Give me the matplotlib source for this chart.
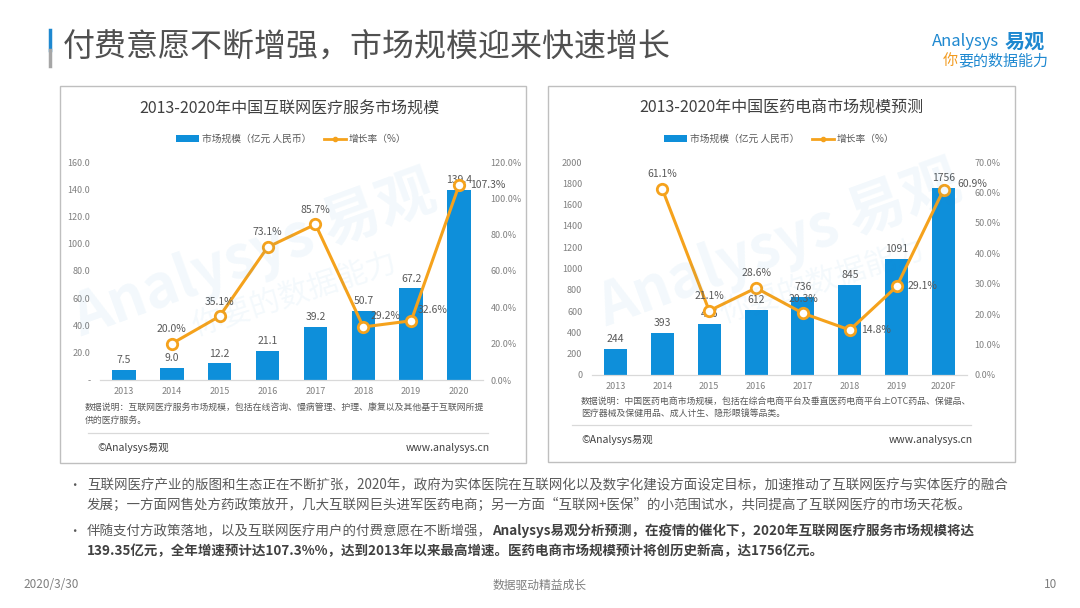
import numpy as np
import matplotlib
matplotlib.use("Agg")
import matplotlib.pyplot as plt
from matplotlib.patches import Rectangle, Patch
from matplotlib.lines import Line2D

plt.rcParams['font.family'] = ['Noto Sans CJK SC', 'DejaVu Sans']

# ---------------- data ----------------
years_left = ["2013", "2014", "2015", "2016", "2017", "2018", "2019", "2020"]
size_left = [7.5, 9.0, 12.2, 21.1, 39.2, 50.7, 67.2, 139.4]
rate_left = [np.nan, 20.0, 35.1, 73.1, 85.7, 29.2, 32.6, 107.3]

years_right = ["2013", "2014", "2015", "2016", "2017", "2018", "2019", "2020F"]
size_right = [244, 393, 476, 612, 736, 845, 1091, 1756]
rate_right = [np.nan, 61.1, 21.1, 28.6, 20.3, 14.8, 29.1, 60.9]

title_left = "2013-2020年中国互联网医疗服务市场规模"
title_right = "2013-2020年中国医药电商市场规模预测"
legend_bar = "市场规模（亿元 人民币）"
legend_line = "增长率（%）"
note_left = ["数据说明：互联网医疗服务市场规模，包括在线咨询、慢病管理、护理、康复以及其他基于互联网所提",
             "供的医疗服务。"]
note_right = ["数据说明：中国医药电商市场规模，包括在综合电商平台及垂直医药电商平台上OTC药品、保健品、",
              "医疗器械及保健用品、成人计生、隐形眼镜等品类。"]

heading = "付费意愿不断增强，市场规模迎来快速增长"
bullet1 = ["互联网医疗产业的版图和生态正在不断扩张，2020年，政府为实体医院在互联网化以及数字化建设方面设定目标，加速推动了互联网医疗与实体医疗的融合",
           "发展；一方面网售处方药政策放开，几大互联网巨头进军医药电商；另一方面“互联网+医保”的小范围试水，共同提高了互联网医疗的市场天花板。"]
bullet2_a = "伴随支付方政策落地，以及互联网医疗用户的付费意愿在不断增强，"
bullet2_b = "Analysys易观分析预测，在疫情的催化下，2020年互联网医疗服务市场规模将达"
bullet2_c = "139.35亿元，全年增速预计达107.3%%，达到2013年以来最高增速。医药电商市场规模预计将创历史新高，达1756亿元。"

# ---------------- style ----------------
W, H = 1080, 608
BLUE = '#0E8FDA'
ORANGE = '#F5A21C'
GRAY_TXT = '#595959'
TICK_GRAY = '#808080'
LABEL_OFFSETS = {'above': (0, 7, 'center', 'bottom'),
                 'upright': (5, 8, 'left', 'center'),
                 'right': (8, 0, 'left', 'center'),
                 'farright': (10, 4, 'left', 'center')}

fig = plt.figure(figsize=(W / 100, H / 100), dpi=100)
fig.patch.set_facecolor('white')


def fx(x):
    return x / W


def fy(y):
    return 1 - y / H


# heading
fig.add_artist(Line2D([fx(50), fx(50)], [fy(30), fy(50)], color='#1E88D0', lw=2.5))
fig.add_artist(Line2D([fx(50), fx(50)], [fy(50), fy(66)], color='#A6A6A6', lw=2.5))
fig.text(fx(63), fy(47), heading, fontsize=23, color='#505050', va='center', ha='left')

# logo
fig.text(fx(999), fy(42), "Analysys", fontsize=12, color='#1E88D0', va='center', ha='right',
         style='italic')
fig.text(fx(1005), fy(41), "易观", fontsize=14.5, color='#1E88D0', va='center', ha='left',
         weight='bold')
fig.text(fx(943), fy(61), "你", fontsize=10.8, color='#F29A1E', va='center', ha='left', style='italic')
fig.text(fx(958), fy(61), "要的数据能力", fontsize=10.8, color='#1E88D0', va='center', ha='left',
         style='italic')


def draw_panel(px0, py0, px1, py1):
    fig.add_artist(Rectangle((fx(px0), fy(py1)), fx(px1) - fx(px0), fy(py0) - fy(py1),
                             transform=fig.transFigure, fill=False, edgecolor='#BFBFBF', lw=1))


def draw_chart(ax_px, years, sizes, rates, ymax, ystep, rmax, rstep, size_fmt, tick_fmt,
               zero_label, placements, title, title_xy, notes, note_xy, sep, foot_y, wm):
    x0, y0, x1, y1 = ax_px  # left, top, right, bottom in px
    ax = fig.add_axes([fx(x0), fy(y1), fx(x1) - fx(x0), fy(y0) - fy(y1)])
    ax.set_facecolor('none')
    idx = np.arange(len(years))
    bars = ax.bar(idx, sizes, width=0.49, color=BLUE, zorder=2)
    ax.set_xlim(-0.5, len(years) - 0.5)
    ax.set_ylim(0, ymax)
    yt = np.arange(0, ymax + ystep / 2, ystep)
    ax.set_yticks(yt)
    ax.set_yticklabels([zero_label if v == 0 else tick_fmt(v) for v in yt])
    ax.set_xticks(idx)
    ax.set_xticklabels(years)
    for s in ['top', 'left', 'right']:
        ax.spines[s].set_visible(False)
    ax.spines['bottom'].set_color('#D9D9D9')
    ax.spines['bottom'].set_linewidth(0.9)
    ax.tick_params(axis='both', length=0, labelsize=6.5, labelcolor=TICK_GRAY)
    ax.tick_params(axis='y', pad=7)
    ax.tick_params(axis='x', pad=5)
    for b, v in zip(bars, sizes):
        ax.annotate(size_fmt(v), (b.get_x() + b.get_width() / 2, v), xytext=(0, 3.5),
                    textcoords='offset points', ha='center', va='bottom', fontsize=7.5,
                    color=GRAY_TXT, zorder=3)

    ax2 = ax.twinx()
    ax2.set_ylim(0, rmax)
    rt = np.arange(0, rmax + rstep / 2, rstep)
    ax2.set_yticks(rt)
    ax2.set_yticklabels([f"{v:.1f}%" for v in rt])
    for s in ['top', 'left', 'right', 'bottom']:
        ax2.spines[s].set_visible(False)
    ax2.tick_params(axis='y', length=0, labelsize=6.5, labelcolor=TICK_GRAY, pad=5.5)
    ax2.plot(idx, rates, color=ORANGE, lw=2.2, marker='o', markersize=7.5,
             markerfacecolor='white', markeredgecolor=ORANGE, markeredgewidth=2, zorder=4)
    for i, (r, p) in enumerate(zip(rates, placements)):
        if np.isnan(r):
            continue
        dx, dy, ha, va = LABEL_OFFSETS[p]
        ax2.annotate(f"{r:.1f}%", (i, r), xytext=(dx, dy), textcoords='offset points',
                     ha=ha, va=va, fontsize=7.5, color=GRAY_TXT, zorder=5)

    handles = [Patch(facecolor=BLUE, edgecolor='none'),
               Line2D([0], [0], color=ORANGE, lw=2, marker='o', markersize=3,
                      markerfacecolor=ORANGE, markeredgecolor=ORANGE)]
    ax2.legend(handles, [legend_bar, legend_line], loc='center', ncol=2, frameon=False,
               bbox_to_anchor=(0.5, 1 + 23 / (y1 - y0)), fontsize=7, labelcolor=GRAY_TXT,
               handlelength=2.3, handletextpad=0.3, columnspacing=1.3)

    fig.text(fx(title_xy[0]), fy(title_xy[1]), title, fontsize=11.5, color='#404040',
             ha='center', va='center', weight='medium')
    for k, line in enumerate(notes):
        fig.text(fx(note_xy[0]), fy(note_xy[1] + 12 * k), line, fontsize=6.4, color=GRAY_TXT,
                 ha='left', va='center')
    fig.add_artist(Line2D([fx(sep[0]), fx(sep[1])], [fy(sep[2]), fy(sep[2])],
                          color='#D9D9D9', lw=0.9))
    fig.text(fx(sep[0] + 9), fy(foot_y), "©Analysys易观", fontsize=7.5, color='#404040',
             ha='left', va='center')
    fig.text(fx(sep[1] + 2), fy(foot_y), "www.analysys.cn", fontsize=7.5, color='#404040',
             ha='right', va='center')
    # faint watermark
    fig.text(fx(wm[0]), fy(wm[1]), "Analysys 易观", fontsize=42, color='#2A8CD0', alpha=0.06,
             rotation=20, ha='center', va='center', weight='bold', zorder=0)
    fig.text(fx(wm[2]), fy(wm[3]), "你要的数据能力", fontsize=22, color='#2A8CD0', alpha=0.05,
             rotation=18, ha='center', va='center', zorder=0)
    return ax, ax2


draw_panel(60, 86, 526, 463)
draw_panel(548, 86, 1015, 462)

draw_chart((100, 162, 483, 380), years_left, size_left, rate_left, 160, 20, 120, 20,
           lambda v: f"{v:.1f}", lambda v: f"{v:.1f}", "-",
           ['above', 'above', 'above', 'above', 'above', 'upright', 'upright', 'right'],
           title_left, (289, 109), note_left, (85, 408), (88, 488, 433), 448,
           (255, 255, 295, 295))

draw_chart((592, 162, 967, 375), years_right, size_right, rate_right, 2000, 200, 70, 10,
           lambda v: f"{v:d}", lambda v: f"{int(v)}", "0",
           ['above', 'above', 'above', 'above', 'above', 'right', 'right', 'farright'],
           title_right, (781, 108), note_right, (581, 401), (572, 971, 425), 440,
           (780, 245, 823, 282))

# bullets
BODY = '#595959'
BOLD = '#404040'
FS = 9.7
fig.text(fx(74), fy(485), "•", fontsize=9, color=BODY, ha='center', va='center')
fig.text(fx(87), fy(485), bullet1[0], fontsize=FS, color=BODY, ha='left', va='center')
fig.text(fx(87), fy(505), bullet1[1], fontsize=FS, color=BODY, ha='left', va='center')
fig.text(fx(74), fy(531), "•", fontsize=9, color=BODY, ha='center', va='center')
fig.canvas.draw()
renderer = fig.canvas.get_renderer()
t_a = fig.text(fx(87), fy(531), bullet2_a, fontsize=FS, color=BODY, ha='left', va='center')
bb = t_a.get_window_extent(renderer)
fig.text(bb.x1 / W, fy(531), bullet2_b, fontsize=FS, color=BOLD, ha='left', va='center',
         weight='bold')
fig.text(fx(87), fy(551), bullet2_c, fontsize=FS, color=BOLD, ha='left', va='center',
         weight='bold')

# footer
fig.text(fx(23), fy(585), "2020/3/30", fontsize=8.5, color='#7F7F7F', ha='left', va='center')
fig.text(fx(540), fy(585), "数据驱动精益成长", fontsize=8.5, color='#7F7F7F', ha='center', va='center')
fig.text(fx(1057), fy(585), "10", fontsize=8.5, color='#7F7F7F', ha='right', va='center')

fig.savefig("out.png", dpi=100)
